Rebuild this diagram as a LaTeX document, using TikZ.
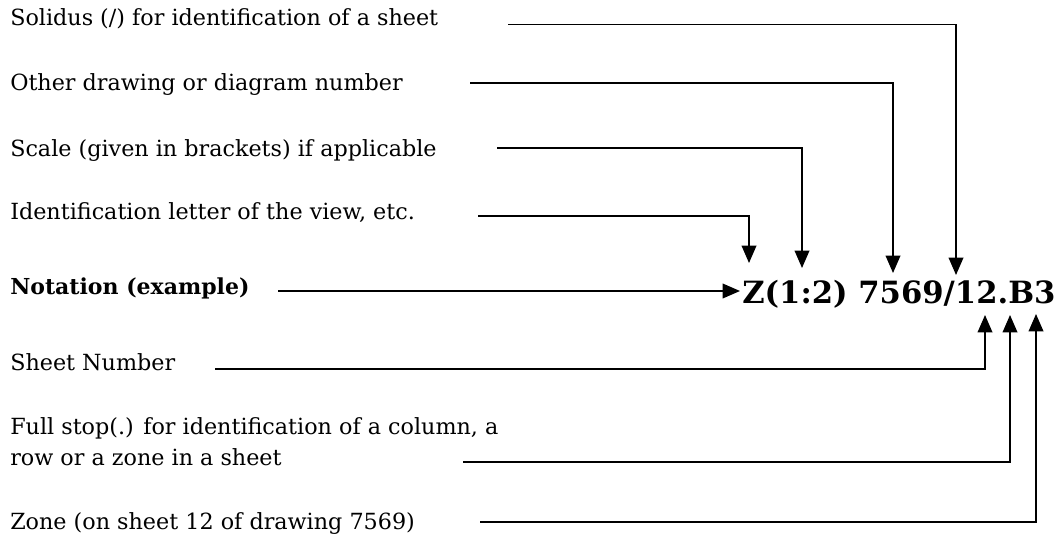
\documentclass[tikz,border=0pt]{standalone}
\usepackage{fontspec}
\setmainfont{DejaVu Serif}
\usetikzlibrary{arrows.meta, positioning}

\tikzset{
  lbl/.style={anchor=base west, inner sep=0pt, font=\fontsize{16.7}{23.25}\selectfont, align=left},
  conn/.style={line width=1.1pt, -{Triangle[length=13pt,width=11pt]}}
}

\begin{document}
\begin{tikzpicture}[x=0.75pt,y=-0.75pt]
  \useasboundingbox (0,0) rectangle (1062,541);

  % Labels
  \node[lbl] (solidus) at (10,26) {Solidus (/) for identification of a sheet};
  \node[lbl] (other) at (10,91) {Other drawing or diagram number};
  \node[lbl] (scale) at (10,157) {Scale (given in brackets) if applicable};
  \node[lbl] (ident) at (10,220) {Identification letter of the view, etc.};
  \node[lbl, font=\bfseries\fontsize{16.5}{23.25}\selectfont] (notation) at (10,295) {Notation (example)};
  \node[lbl] (sheet) at (10,370) {Sheet Number};
  \node[lbl] (fullstop) at (10,465) {Full stop(.) for identification of a column, a\\row or a zone in a sheet};
  \node[lbl] (zone) at (10,529) {Zone (on sheet 12 of drawing 7569)};

  % Example notation
  \node[anchor=base west, inner sep=0pt, font=\bfseries\fontsize{23}{26}\selectfont] (code) at (742,303) {Z(1:2) 7569/12.B3};

  % Start points of the leaders
  \coordinate (s1) at (508,24.5);
  \coordinate (s2) at (470,83);
  \coordinate (s3) at (497,148);
  \coordinate (s4) at (478,216);
  \coordinate (s5) at (278,291);
  \coordinate (s6) at (215,369);
  \coordinate (s7) at (463,462);
  \coordinate (s8) at (480,522);

  % Arrow tips
  \coordinate (t1) at (956,275);
  \coordinate (t2) at (893,273);
  \coordinate (t3) at (802,268);
  \coordinate (t4) at (749,263);
  \coordinate (t5) at (740,291);
  \coordinate (t6) at (985,315);
  \coordinate (t7) at (1010,315);
  \coordinate (t8) at (1036,314);

  % Leaders
  \draw[conn] (s1) -| (t1);
  \draw[conn] (s2) -| (t2);
  \draw[conn] (s3) -| (t3);
  \draw[conn] (s4) -| (t4);
  \draw[conn] (s5) -- (t5);
  \draw[conn] (s6) -| (t6);
  \draw[conn] (s7) -| (t7);
  \draw[conn] (s8) -| (t8);
\end{tikzpicture}
\end{document}
